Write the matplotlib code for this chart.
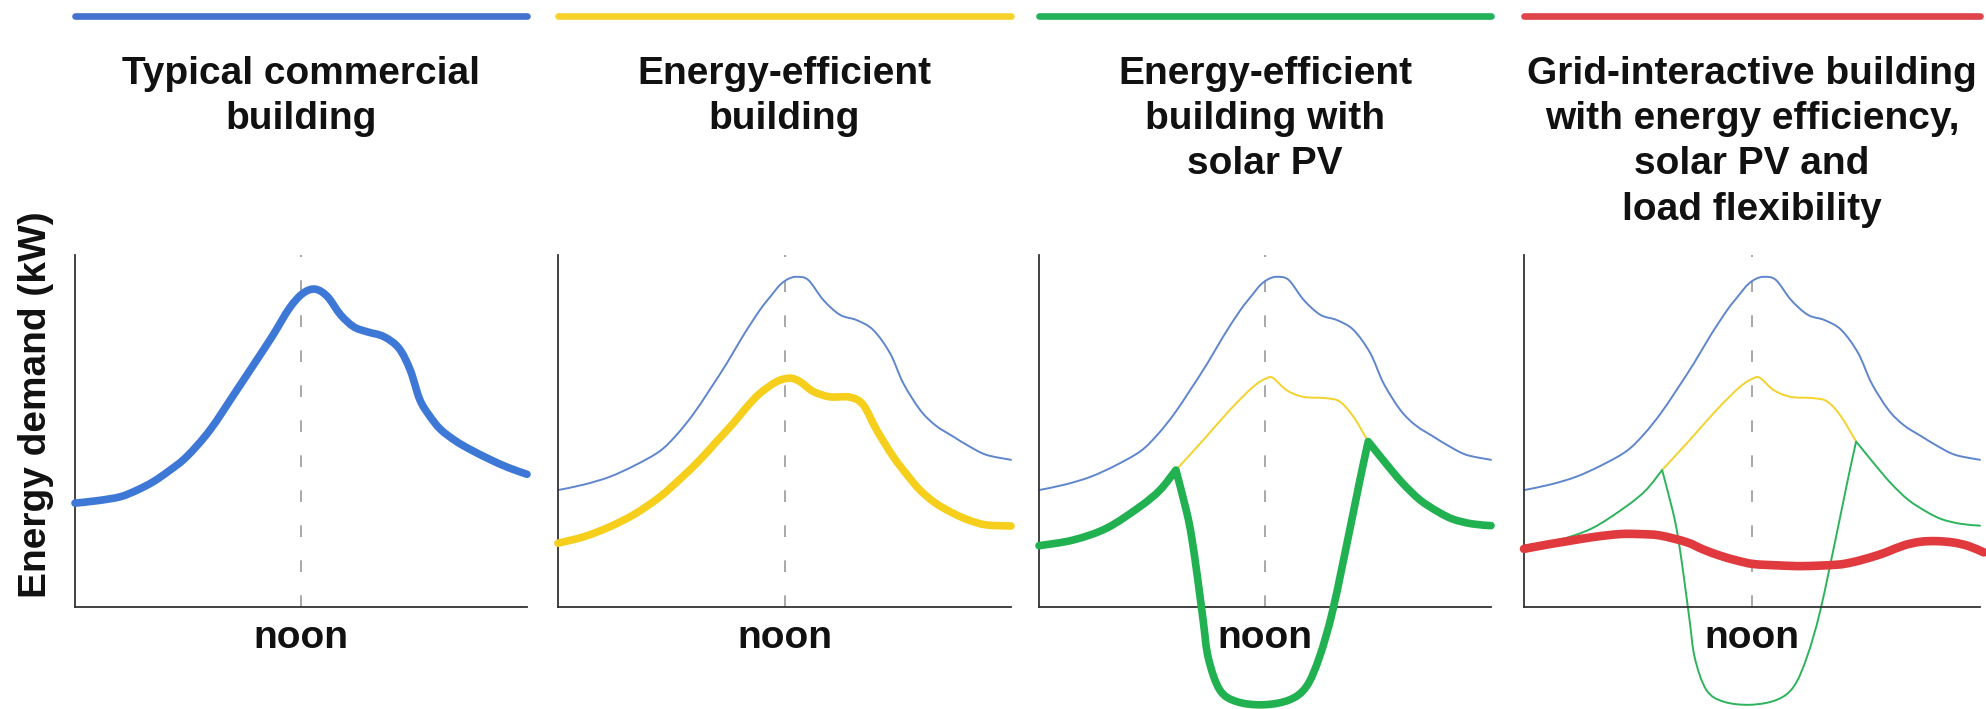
import matplotlib
matplotlib.use("Agg")
import matplotlib.pyplot as plt
from matplotlib.path import Path
from matplotlib.patches import PathPatch
from matplotlib.transforms import blended_transform_factory

plt.rcParams['font.family'] = ['Liberation Sans', 'DejaVu Sans']

# ---------------- text ----------------
titles = [
    "Typical commercial\nbuilding",
    "Energy-efficient\nbuilding",
    "Energy-efficient\nbuilding with\nsolar PV",
    "Grid-interactive building\nwith energy efficiency,\nsolar PV and\nload flexibility",
]
noon_label = "noon"
y_label = "Energy demand (kW)"
NOON = 12  # hour of day

# ---------------- data (hour of day, demand in % of axis height) ----------------
typical_x = [0, 1.2, 2.4, 3.3, 4.16, 5.0, 5.93, 7.17, 8.59, 10.0, 10.6, 11.4, 12.1, 12.75,
             13.4, 14.1, 14.8, 15.5, 16.4, 17.2, 17.8, 18.3, 18.8, 19.4, 20.2, 21.0, 22.0,
             23.0, 24]
typical_y = [29.5, 30.2, 31.3, 33.2, 35.6, 38.7, 42.7, 50.3, 61.6, 73.0, 78.0, 85.0, 89.1, 90.3,
             88.2, 83.0, 79.6, 78.2, 76.8, 73.5, 67.3, 59.0, 54.5, 50.5, 47.2, 44.7, 42.0,
             39.6, 37.7]

ref_typical_x = [0, 1.4, 2.75, 4.1, 5.4, 6.3, 7.17, 8.0, 8.94, 9.8, 10.7, 11.3, 11.76, 12.2,
                 12.65, 13.26, 14.06, 14.94, 15.82, 16.7, 17.59, 18.29, 19.18, 20.0, 20.94,
                 21.8, 22.7, 24]
ref_typical_y = [33.2, 34.8, 37.0, 40.3, 44.3, 49.0, 54.8, 61.4, 69.2, 77.0, 84.4, 88.5, 91.5,
                 93.2, 93.8, 92.9, 87.2, 83.0, 81.5, 78.7, 72.1, 63.6, 56.0, 51.6, 48.4, 45.6,
                 43.2, 41.8]

efficient_x = [0, 1.4, 2.75, 4.1, 5.4, 6.5, 7.52, 8.4, 9.29, 10.0, 10.7, 11.58, 12.29, 12.82,
               13.53, 14.41, 15.47, 16.17, 16.88, 17.76, 18.5, 19.18, 20.0, 20.94, 21.8, 22.7, 24]
efficient_y = [18.1, 20.0, 22.8, 26.5, 31.3, 36.5, 41.8, 47.0, 52.2, 56.8, 60.7, 64.0, 65.0,
               64.0, 61.2, 59.7, 59.6, 57.4, 50.3, 42.7, 37.5, 33.2, 29.5, 26.6, 24.6, 23.3, 23.0]

efficient_mid_x = [7.27, 8.72, 10.14, 11.38, 12.09, 12.44, 13.15, 14.03, 15.27, 15.98, 16.69, 17.48]
efficient_mid_y = [38.9, 47.4, 56.0, 62.6, 65.0, 65.0, 61.6, 59.7, 59.3, 58.3, 54.1, 47.0]

solar_x = [0, 1.8, 3.6, 5.36, 6.42, 7.27, 7.84, 8.1, 8.4, 8.72, 8.99, 9.6, 10.5, 11.9, 13.3,
           14.2, 14.9, 15.6, 16.5, 17.04, 17.48, 18.46, 19.3, 20.23, 21.2, 22.0, 23.0, 24]
solar_y = [17.4, 19.0, 22.4, 28.5, 33.2, 38.9, 27.0, 20.0, 9.0, -4.0, -14.5, -23.6, -26.9,
           -27.8, -26.4, -22.6, -14.1, -0.9, 21.9, 36.1, 47.0, 40.5, 35.2, 30.4, 27.0, 24.9,
           23.6, 23.1]
solar_corners = [5, 20]  # indices of the sharp PV on/off points

flex_x = [0, 1.2, 2.42, 3.7, 5.05, 6.1, 7.16, 8.56, 9.4, 10.3, 11.2, 12.07, 13.4, 14.7, 16.46,
          17.2, 17.86, 18.5, 19.09, 20.0, 20.84, 21.7, 22.6, 23.4, 24.2]
flex_y = [16.5, 17.7, 18.8, 19.9, 20.7, 20.7, 20.3, 18.4, 16.4, 14.6, 13.2, 12.2, 11.8, 11.6,
          12.0, 12.6, 13.5, 14.5, 15.6, 17.5, 18.5, 18.7, 18.3, 17.3, 15.5]

# ---------------- style ----------------
BLUE, YELLOW, GREEN, RED = '#3d78d6', '#f5cf1c', '#22b150', '#e03a3e'
BLUE_THIN, YELLOW_THIN, GREEN_THIN = '#5f86cc', '#f3d22e', '#2db35c'
BAR_COLORS = ['#4473cf', '#f6d22b', '#22b25a', '#df444b']
THICK, THIN = 5.5, 1.4
AX_COLOR = '#333333'
FS = 28

W, H = 1986, 709
fig = plt.figure(figsize=(W / 100, H / 100), dpi=100)

panel_px = [(75, 527), (558, 1011), (1039, 1491), (1524, 1980)]
top_px = 255
YMIN, YMAX = -29, 100


def smooth_path(xs, ys, corners=()):
    """Bezier path passing through the given points (Catmull-Rom tangents),
    with sharp corners at the listed indices."""
    pts = list(zip(xs, ys))
    cuts = [0] + sorted(corners) + [len(pts) - 1]
    verts = [pts[0]]
    codes = [Path.MOVETO]
    for a, b in zip(cuts[:-1], cuts[1:]):
        seg = pts[a:b + 1]
        n = len(seg)
        for k in range(n - 1):
            p0 = seg[k - 1] if k > 0 else seg[k]
            p1 = seg[k]
            p2 = seg[k + 1]
            p3 = seg[k + 2] if k + 2 < n else seg[k + 1]
            c1 = (p1[0] + (p2[0] - p0[0]) / 6, p1[1] + (p2[1] - p0[1]) / 6)
            c2 = (p2[0] - (p3[0] - p1[0]) / 6, p2[1] - (p3[1] - p1[1]) / 6)
            verts += [c1, c2, p2]
            codes += [Path.CURVE4] * 3
    return Path(verts, codes)


def curve(ax, x, y, c, lw, z=3, corners=()):
    patch = PathPatch(smooth_path(x, y, corners), facecolor='none', edgecolor=c, lw=lw,
                      capstyle='round', joinstyle='round', zorder=z, clip_on=False)
    ax.add_patch(patch)


for i, (l, r) in enumerate(panel_px):
    ax = fig.add_axes([l / W, 0, (r - l) / W, (H - top_px) / H])
    ax.set_xlim(0, 24)
    ax.set_ylim(YMIN, YMAX)
    ax.patch.set_alpha(0)
    for s in ('top', 'right'):
        ax.spines[s].set_visible(False)
    ax.spines['bottom'].set_position(('data', 0))
    ax.spines['left'].set_bounds(0, 100)
    for s in ('left', 'bottom'):
        ax.spines[s].set_color(AX_COLOR)
        ax.spines[s].set_linewidth(1.3)
    ax.set_xticks([])
    ax.set_yticks([])

    ax.vlines(NOON, 0, 100, colors='#9a9a9a', linewidth=1.2,
              linestyles=(0, (7, 14)), zorder=1)

    if i == 0:
        curve(ax, typical_x, typical_y, BLUE, THICK)
    else:
        curve(ax, ref_typical_x, ref_typical_y, BLUE_THIN, THIN, z=2)
    if i == 1:
        curve(ax, efficient_x, efficient_y, YELLOW, THICK)
    elif i >= 2:
        curve(ax, efficient_mid_x, efficient_mid_y, YELLOW_THIN, THIN, z=2)
    if i == 2:
        curve(ax, solar_x, solar_y, GREEN, THICK, corners=solar_corners)
    elif i == 3:
        curve(ax, solar_x, solar_y, GREEN_THIN, THIN, z=2, corners=solar_corners)
        curve(ax, flex_x, flex_y, RED, 6.2, z=4)

    trans = blended_transform_factory(ax.transAxes, fig.transFigure)
    ax.plot([0, 1], [1 - 16 / H] * 2, transform=trans, color=BAR_COLORS[i], lw=4.8,
            solid_capstyle='round', clip_on=False)
    ax.text(0.5, 1 - 56 / H, titles[i], transform=trans, ha='center', va='top',
            fontsize=FS, fontweight='bold', linespacing=1.33, color='#111111')
    tnoon = blended_transform_factory(ax.transData, fig.transFigure)
    ax.text(NOON, 1 - 648 / H, noon_label, transform=tnoon, ha='center', va='baseline',
            fontsize=FS, fontweight='bold', color='#111111')

fig.text(36 / W, 1 - 405 / H, y_label, rotation=90, ha='center', va='center',
         fontsize=FS, fontweight='bold', color='#111111')

fig.savefig('out.png', dpi=100, facecolor='white')
